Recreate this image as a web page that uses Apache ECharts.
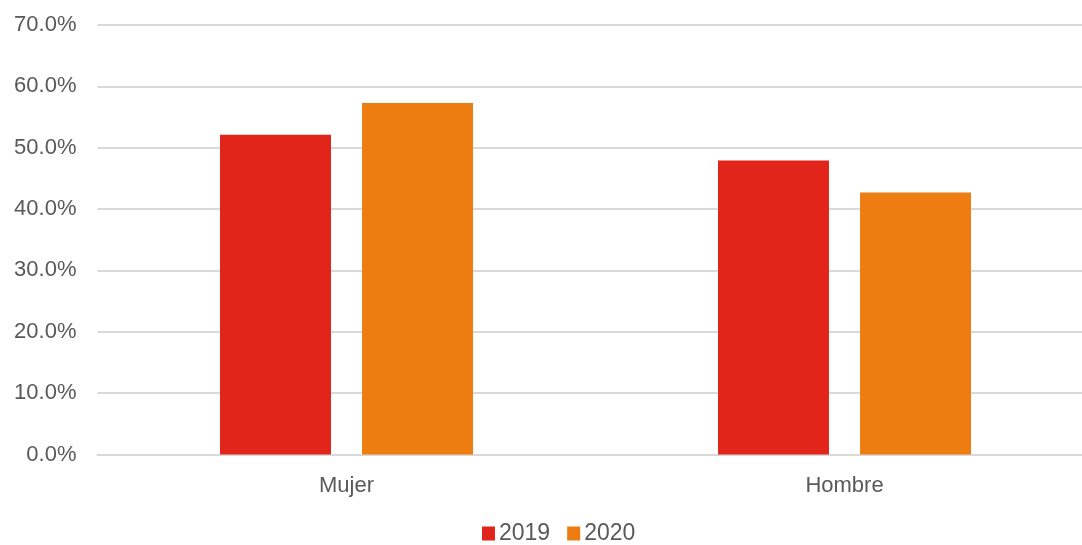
<!DOCTYPE html>
<html>
<head>
<meta charset="utf-8">
<script src="https://cdn.jsdelivr.net/npm/echarts@6/dist/echarts.min.js"></script>
<style>
html,body{margin:0;padding:0;background:#fff;}
#c{width:1082px;height:545px;}
</style>
</head>
<body>
<div id="c"></div>
<script>
const categories = ['Mujer', 'Hombre'];
const seriesNames = ['2019', '2020'];
const values2019 = [52.1, 47.9];
const values2020 = [57.3, 42.7];
const yTicks = [0, 10, 20, 30, 40, 50, 60, 70];

const chart = echarts.init(document.getElementById('c'), null, {renderer: 'canvas'});
const font = '"Liberation Sans", Arial, sans-serif';
chart.setOption({
  animation: false,
  textStyle: {fontFamily: font},
  grid: {left: 97.5, width: 996, top: 25, height: 429.5, containLabel: false, outerBoundsMode: 'none'},
  legend: {
    data: seriesNames,
    top: 522,
    left: 482,
    padding: 0,
    itemWidth: 13, itemHeight: 14, itemGap: 17,
    icon: 'rect',
    textStyle: {fontSize: 23, color: '#595959', fontFamily: font, padding: [0, 0, 0, -1]}
  },
  xAxis: {
    type: 'category',
    data: categories,
    axisLine: {show: true, lineStyle: {color: '#d9d9d9', width: 2}},
    axisTick: {show: false},
    axisLabel: {fontSize: 22, color: '#595959', margin: 20, fontFamily: font}
  },
  yAxis: {
    type: 'value',
    min: yTicks[0], max: yTicks[yTicks.length - 1], interval: 10,
    axisLine: {show: false},
    axisTick: {show: false},
    splitLine: {lineStyle: {color: '#d9d9d9', width: 2}},
    axisLabel: {fontSize: 22, color: '#595959', margin: 21, fontFamily: font,
      formatter: v => v.toFixed(1) + '%'}
  },
  series: [
    {name: seriesNames[0], type: 'bar', data: values2019, barGap: '28%', barCategoryGap: '49.2%',
     itemStyle: {color: '#e1251b'}},
    {name: seriesNames[1], type: 'bar', data: values2020, barGap: '28%', barCategoryGap: '49.2%',
     itemStyle: {color: '#ee7d11'}}
  ]
});
</script>
</body>
</html>
